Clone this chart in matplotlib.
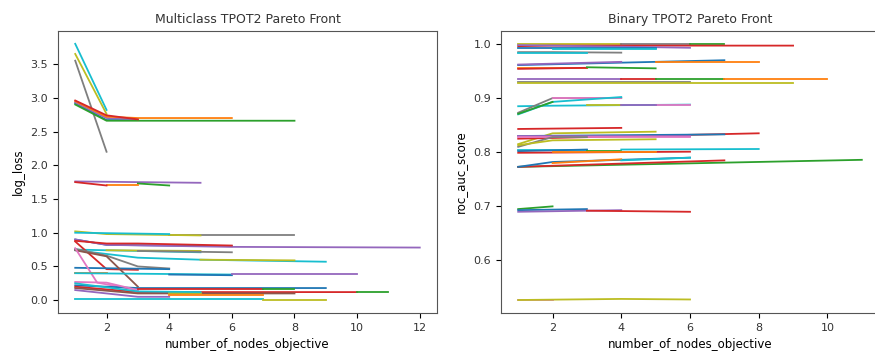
import matplotlib
matplotlib.use("Agg")
import matplotlib.pyplot as plt

# ---- Multiclass Pareto fronts: (nodes, log_loss) ----
multi_x = [
    [1, 2], [1, 2], [1, 2], [1, 2, 3], [1, 2, 3], [1, 2, 3, 6], [1, 2, 8], [1, 2, 3],
    [1, 5], [3, 4], [2, 3], [1, 2],
    [4, 8], [1, 2, 5], [1, 4],
    [1, 2, 6], [1, 2, 6, 12], [1, 2, 3, 6],
    [1, 5], [2, 5], [3, 6], [1, 3, 5, 9], [5, 8],
    [1, 2, 3], [1, 2, 3, 4], [1, 4], [1, 2, 3], [1, 1.7, 3],
    [1, 2], [1, 6], [4, 6], [6, 10],
    [1, 3, 9], [1, 3, 10], [10, 11], [1, 2, 3], [3, 5, 7], [7, 8],
    [1, 3, 8], [1, 3, 4], [4, 5], [4, 7], [1, 7], [7, 9], [1, 3, 5],
]
multi_y = [
    [3.80, 2.82], [3.65, 2.76], [3.55, 2.20], [2.92, 2.67, 2.67], [2.93, 2.70, 2.68],
    [2.95, 2.72, 2.70, 2.70], [2.90, 2.66, 2.66], [2.96, 2.74, 2.68],
    [1.76, 1.74], [1.73, 1.70], [1.70, 1.70], [1.75, 1.70],
    [0.97, 0.97], [1.02, 0.98, 0.96], [1.00, 0.98],
    [0.90, 0.82, 0.80], [0.90, 0.82, 0.79, 0.78], [0.88, 0.84, 0.84, 0.81],
    [0.75, 0.71], [0.74, 0.73], [0.73, 0.71], [0.74, 0.63, 0.60, 0.57], [0.60, 0.59],
    [0.87, 0.46, 0.45], [0.76, 0.66, 0.50, 0.47], [0.48, 0.46], [0.74, 0.65, 0.20],
    [0.77, 0.26, 0.15],
    [0.41, 0.41], [0.40, 0.38], [0.38, 0.37], [0.39, 0.39],
    [0.22, 0.18, 0.18], [0.20, 0.12, 0.12], [0.12, 0.12], [0.27, 0.26, 0.15],
    [0.17, 0.17, 0.17], [0.17, 0.17],
    [0.18, 0.10, 0.10], [0.15, 0.05, 0.05], [0.10, 0.10], [0.07, 0.07], [0.02, 0.02],
    [0.01, 0.01], [0.25, 0.13, 0.12],
]
multi_c = [
    "C9", "C8", "C7", "C0", "C4", "C1", "C2", "C3",
    "C4", "C2", "C1", "C3",
    "C7", "C8", "C9",
    "C0", "C4", "C3",
    "C9", "C8", "C7", "C9", "C8",
    "C3", "C7", "C0", "C5", "C6",
    "C1", "C9", "C0", "C4",
    "C0", "C3", "C2", "C6", "C3", "C2",
    "C5", "C4", "C8", "C1", "C9", "C8", "C9",
]

# ---- Binary Pareto fronts: (nodes, roc_auc) ----
bin_x = [
    [1, 4], [4, 6], [6, 7], [1, 2, 9], [1, 6], [1, 5], [2, 5], [1, 2, 4], [1, 3],
    [1, 7], [1, 4], [5, 8], [1, 3], [1, 3], [3, 5],
    [1, 4], [4, 5], [5, 7], [7, 10], [1, 6], [1, 9],
    [1, 2, 6], [5, 6], [3, 4], [4, 5], [1, 2, 4], [2, 4], [1, 2, 4], [1, 2],
    [1, 4], [1, 2, 5], [1, 8], [1, 7], [1, 6], [1, 6], [1, 2, 3], [1, 2, 5],
    [1, 3], [1, 3], [3, 4], [4, 8], [1, 6], [2, 5],
    [1, 11], [1, 7], [1, 2, 6], [2, 4], [4, 6],
    [1, 2], [1, 3], [1, 4], [3, 6],
    [1, 2], [1, 4, 6],
]
bin_y = [
    [1.000, 1.000], [1.000, 1.000], [1.000, 1.000], [0.996, 0.997, 0.997], [0.998, 0.993],
    [0.993, 0.993], [0.990, 0.990], [0.985, 0.985, 0.984], [0.983, 0.983],
    [0.961, 0.970], [0.962, 0.967], [0.966, 0.966], [0.955, 0.955], [0.954, 0.956],
    [0.957, 0.955],
    [0.935, 0.935], [0.936, 0.936], [0.935, 0.935], [0.935, 0.935], [0.930, 0.930],
    [0.928, 0.928],
    [0.885, 0.886, 0.888], [0.888, 0.888], [0.888, 0.888], [0.888, 0.888],
    [0.873, 0.900, 0.900], [0.900, 0.900], [0.870, 0.893, 0.902], [0.871, 0.893],
    [0.843, 0.845], [0.815, 0.835, 0.838], [0.825, 0.835], [0.830, 0.833], [0.830, 0.830],
    [0.828, 0.828], [0.810, 0.828, 0.828], [0.813, 0.822, 0.824],
    [0.805, 0.805], [0.802, 0.805], [0.803, 0.803], [0.805, 0.806], [0.799, 0.801],
    [0.800, 0.800],
    [0.773, 0.786], [0.773, 0.785], [0.773, 0.782, 0.790], [0.780, 0.787], [0.785, 0.790],
    [0.695, 0.700], [0.693, 0.695], [0.690, 0.693], [0.692, 0.690],
    [0.527, 0.527], [0.527, 0.529, 0.528],
]
bin_c = [
    "C8", "C7", "C2", "C3", "C4", "C0", "C9", "C7", "C9",
    "C0", "C4", "C1", "C1", "C3", "C2",
    "C4", "C3", "C2", "C1", "C7", "C8",
    "C9", "C6", "C8", "C4", "C7", "C6", "C9", "C2",
    "C3", "C8", "C3", "C0", "C4", "C6", "C7", "C8",
    "C9", "C0", "C2", "C9", "C3", "C1",
    "C2", "C3", "C0", "C1", "C9",
    "C2", "C0", "C4", "C3",
    "C6", "C8",
]

plt.rcParams["font.size"] = 8
plt.rcParams["text.color"] = "#333333"
plt.rcParams["xtick.labelcolor"] = "#333333"
plt.rcParams["ytick.labelcolor"] = "#333333"
fig = plt.figure(figsize=(8.75, 3.53), dpi=100)
W, H = 875, 353
ax1 = fig.add_axes([58 / W, 40 / H, 379 / W, 282 / H])
ax2 = fig.add_axes([501 / W, 40 / H, 378 / W, 282 / H])

for xs, ys, c in zip(multi_x, multi_y, multi_c):
    ax1.plot(xs, ys, color=c, lw=1.3)
for xs, ys, c in zip(bin_x, bin_y, bin_c):
    ax2.plot(xs, ys, color=c, lw=1.3)

for ax in (ax1, ax2):
    for s in ax.spines.values():
        s.set_color("#555555")

ax1.set_xlim(0.45, 12.55)
ax1.set_ylim(-0.19, 3.99)
ax1.set_title("Multiclass TPOT2 Pareto Front", fontsize=9)
ax1.set_xlabel("number_of_nodes_objective", fontsize=8.5, labelpad=4)
ax1.set_ylabel("log_loss", fontsize=8.5)

ax2.set_xlim(0.5, 11.5)
ax2.set_ylim(0.503, 1.024)
ax2.set_title("Binary TPOT2 Pareto Front", fontsize=9)
ax2.set_xlabel("number_of_nodes_objective", fontsize=8.5, labelpad=4)
ax2.set_ylabel("roc_auc_score", fontsize=8.5)

fig.savefig("out.png", dpi=100)
